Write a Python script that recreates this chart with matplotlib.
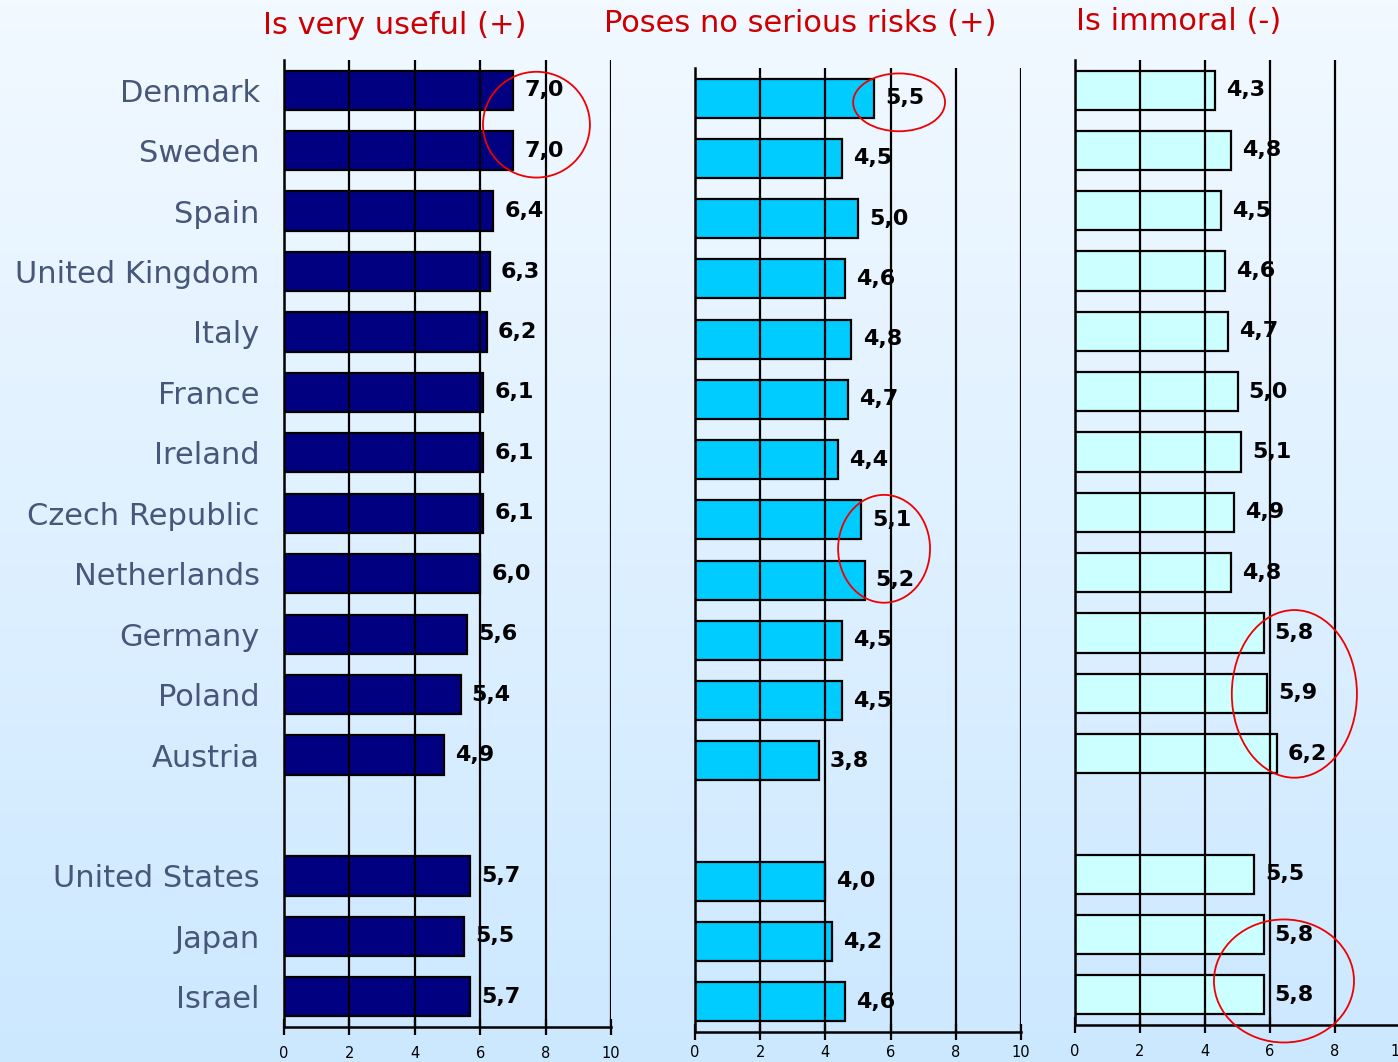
import numpy as np
import matplotlib
matplotlib.use('Agg')
import matplotlib.pyplot as plt
from matplotlib.patches import Ellipse
from matplotlib.colors import LinearSegmentedColormap

# --- data ---
countries = ['Denmark', 'Sweden', 'Spain', 'United Kingdom', 'Italy', 'France',
             'Ireland', 'Czech Republic', 'Netherlands', 'Germany', 'Poland',
             'Austria', 'United States', 'Japan', 'Israel']
useful = [7.0, 7.0, 6.4, 6.3, 6.2, 6.1, 6.1, 6.1, 6.0, 5.6, 5.4, 4.9, 5.7, 5.5, 5.7]
no_risks = [5.5, 4.5, 5.0, 4.6, 4.8, 4.7, 4.4, 5.1, 5.2, 4.5, 4.5, 3.8, 4.0, 4.2, 4.6]
immoral = [4.3, 4.8, 4.5, 4.6, 4.7, 5.0, 5.1, 4.9, 4.8, 5.8, 5.9, 6.2, 5.5, 5.8, 5.8]
titles = ['Is very useful (+)', 'Poses no serious risks (+)', 'Is immoral (-)']
bar_colors = ['#000080', '#00CCFF', '#CCFFFF']
xticks = [0, 2, 4, 6, 8, 10]

# slot positions: 12 European countries, a gap, then 3 others
ypos = list(range(12)) + [13, 14, 15]

W, H = 1398, 1062
fig = plt.figure(figsize=(W / 100, H / 100), dpi=100)

# background gradient
bg = fig.add_axes([0, 0, 1, 1], zorder=-10)
cmap = LinearSegmentedColormap.from_list('bg', ['#F2F9FF', '#CCE8FF'])
bg.imshow(np.linspace(0, 1, 256).reshape(-1, 1), aspect='auto', cmap=cmap,
          extent=[0, 1, 0, 1])
bg.axis('off')


def px_axes(left, right, top, bottom):
    return fig.add_axes([left / W, 1 - bottom / H, (right - left) / W, (bottom - top) / H])


# pixel boxes (left, right, top, bottom) for the three panels
boxes = [(284, 611, 60, 1027), (695, 1021, 68, 1032), (1075, 1400, 60, 1025)]
tick_pads = [8, 4, 8]
title_pos = [(395, 25), (800, 23), (1179, 22)]

axes = []
for i, (vals, box) in enumerate(zip([useful, no_risks, immoral], boxes)):
    ax = px_axes(*box)
    ax.set_facecolor('none')
    ax.barh(ypos, vals, height=0.65, color=bar_colors[i], edgecolor='black',
            linewidth=1.6, zorder=2)
    for x in xticks[1:]:
        ax.axvline(x, color='black', lw=1.6, zorder=3)
    for y, v in zip(ypos, vals):
        ax.annotate(f'{v:.1f}'.replace('.', ','), (v, y), xytext=(8, 0),
                    textcoords='offset points', ha='left', va='center',
                    fontsize=16, fontweight='bold', color='black', zorder=2)
    ax.set_xlim(0, 10)
    ax.set_ylim(15.5, -0.5)
    ax.set_xticks(xticks)
    ax.tick_params(axis='x', direction='inout', length=11, width=1.6,
                   labelsize=10.5, pad=tick_pads[i])
    ax.spines['top'].set_visible(False)
    ax.spines['right'].set_visible(False)
    ax.spines['left'].set_linewidth(1.8)
    ax.spines['bottom'].set_linewidth(1.8)
    ax.spines['bottom'].set_zorder(4)
    if i == 0:
        ax.set_yticks(ypos)
        ax.set_yticklabels(countries, fontsize=22, color='#46577A')
        ax.tick_params(axis='y', length=0, pad=17.5)
    else:
        ax.set_yticks([])
    tx, ty = title_pos[i]
    fig.text(tx / W, 1 - ty / H, titles[i], ha='center', va='center',
             fontsize=22, color='#CC0000')
    axes.append(ax)

# red highlight ellipses (x, y, width, height in data units)
circles = [
    (0, 7.72, 0.57, 3.27, 1.75),
    (1, 6.26, 0.07, 2.82, 0.96),
    (1, 5.80, 7.48, 2.82, 1.79),
    (2, 6.75, 10.01, 3.85, 2.78),
    (2, 6.43, 14.77, 4.31, 2.04),
]
for k, cx, cy, w, h in circles:
    axes[k].add_patch(Ellipse((cx, cy), w, h, fill=False, edgecolor='#EE0000',
                              lw=1.3, clip_on=False, zorder=5))

fig.savefig('out.png', dpi=100)
